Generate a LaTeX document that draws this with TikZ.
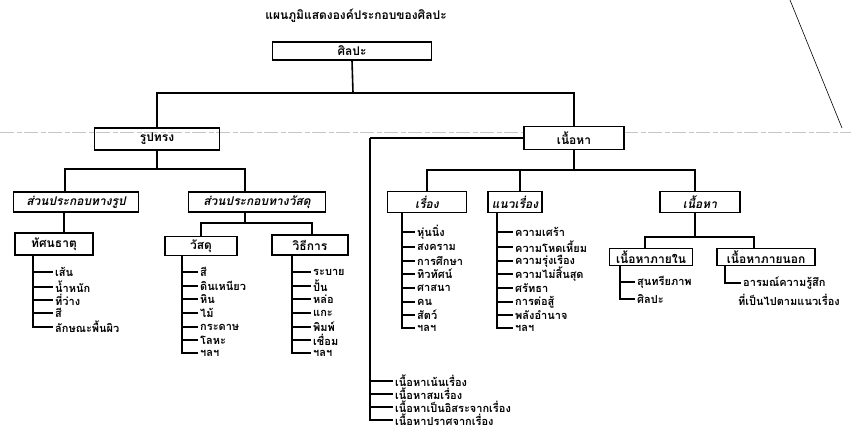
\documentclass[tikz,border=0pt]{standalone}
\usepackage{fontspec}
\usepackage{tikz}
\newfontfamily\thaifont[Script=Thai]{Loma}

\begin{document}
\begin{tikzpicture}[x=1pt, y=-1pt,
    every node/.style={font=\thaifont\bfseries\fontsize{12}{13}\selectfont},
    box/.style={draw, line width=1.1pt, inner sep=1pt, minimum height=20pt},
    itbox/.style={box, font=\thaifont\itshape\bfseries\fontsize{12}{13}\selectfont},
    item/.style={anchor=west, inner sep=2pt, font=\thaifont\bfseries\fontsize{11}{12}\selectfont},
    tree/.style={line width=1.6pt},
    bar/.style={line width=1.3pt}]
  \useasboundingbox (0,0) rectangle (851,439);

  % Sfondo (scansione)
  \draw[gray!45, line width=0.8pt, dash pattern=on 14pt off 3pt on 5pt off 2pt] (0,132) -- (851,132);
  \draw[line width=0.6pt] (790,0) -- (842,128);

  % Nodi
  \node (t) at (356,16) {แผนภูมิแสดงองค์ประกอบของศิลปะ};
  \node[box, minimum width=159pt, minimum height=18pt] (0) at (352,51) {ศิลปะ};

  \node[box, minimum width=125pt, minimum height=22pt] (1) at (157,139) {รูปทรง};
  \node[box, fill=white, minimum width=100pt, minimum height=23pt] (2) at (574,138) {เนื้อหา};

  \node[itbox, minimum width=125pt] (11) at (76,202) {ส่วนประกอบทางรูป};
  \node[itbox, minimum width=137pt] (12) at (257,202) {ส่วนประกอบทางวัสดุ};

  \node[box, minimum width=78pt, minimum height=22pt] (111) at (54,244) {ทัศนธาตุ};
  \node[box, minimum width=72pt, minimum height=19pt] (121) at (201,246) {วัสดุ};
  \node[box, minimum width=76pt] (122) at (310,245) {วิธีการ};

  \node[itbox, minimum width=79pt, minimum height=21pt] (21) at (427,202) {เรื่อง};
  \node[itbox, minimum width=54pt, minimum height=21pt] (22) at (515,202) {แนวเรื่อง};
  \node[itbox, minimum width=80pt, minimum height=21pt] (23) at (700,202) {เนื้อหา};

  \node[box, minimum width=83pt, minimum height=17pt] (231) at (651,257) {เนื้อหาภายใน};
  \node[box, minimum width=98pt, minimum height=17pt] (232) at (766,257) {เนื้อหาภายนอก};

  % Elenchi
  \node[item] (a1) at (53,272) {เส้น};
  \node[item] (a2) at (53,287) {น้ำหนัก};
  \node[item] (a3) at (53,300) {ที่ว่าง};
  \node[item] (a4) at (53,313) {สี};
  \node[item] (a5) at (53,327) {ลักษณะพื้นผิว};

  \node[item] (b1) at (198,272) {สี};
  \node[item] (b2) at (198,286) {ดินเหนียว};
  \node[item] (b3) at (198,299) {หิน};
  \node[item] (b4) at (198,313) {ไม้};
  \node[item] (b5) at (198,327) {กระดาษ};
  \node[item] (b6) at (198,340) {โลหะ};
  \node[item] (b7) at (198,353) {ฯลฯ};

  \node[item] (c1) at (311,272) {ระบาย};
  \node[item] (c2) at (311,286) {ปั้น};
  \node[item] (c3) at (311,299) {หล่อ};
  \node[item] (c4) at (311,313) {แกะ};
  \node[item] (c5) at (311,327) {พิมพ์};
  \node[item] (c6) at (311,340) {เชื่อม};
  \node[item] (c7) at (311,353) {ฯลฯ};

  \node[item] (d1) at (415,232) {หุ่นนิ่ง};
  \node[item] (d2) at (415,247) {สงคราม};
  \node[item] (d3) at (415,261) {การศึกษา};
  \node[item] (d4) at (415,274) {ทิวทัศน์};
  \node[item] (d5) at (415,288) {ศาสนา};
  \node[item] (d6) at (415,302) {คน};
  \node[item] (d7) at (415,315) {สัตว์};
  \node[item] (d8) at (415,328) {ฯลฯ};

  \node[item] (e1) at (513,232) {ความเศร้า};
  \node[item] (e2) at (513,247) {ความโหดเหี้ยม};
  \node[item] (e3) at (513,261) {ความรุ่งเรือง};
  \node[item] (e4) at (513,274) {ความไม่สิ้นสุด};
  \node[item] (e5) at (513,288) {ศรัทธา};
  \node[item] (e6) at (513,302) {การต่อสู้};
  \node[item] (e7) at (513,315) {พลังอำนาจ};
  \node[item] (e8) at (513,328) {ฯลฯ};

  \node[item] (f1) at (635,282) {สุนทรียภาพ};
  \node[item] (f2) at (635,299) {ศิลปะ};

  \node[item] (g1) at (741,283) {อารมณ์ความรู้สึก};
  \node[item] (g2) at (736,300) {ที่เป็นไปตามแนวเรื่อง};

  \node[item] (h1) at (393,381) {เนื้อหาเน้นเรื่อง};
  \node[item] (h2) at (393,394) {เนื้อหาสมเรื่อง};
  \node[item] (h3) at (393,407) {เนื้อหาเป็นอิสระจากเรื่อง};
  \node[item] (h4) at (393,420) {เนื้อหาปราศจากเรื่อง};

  % Punti di giunzione
  \coordinate (j0) at (353,93);
  \coordinate (j1) at (157,169);
  \coordinate (j2) at (245,223);
  \coordinate (j3) at (574,170);
  \coordinate (j4) at (695,237);
  \coordinate (ba) at (33,255);
  \coordinate (bb) at (182,255);
  \coordinate (bc) at (292,255);
  \coordinate (bd) at (402,213);
  \coordinate (be) at (497,213);
  \coordinate (bf) at (620,266);
  \coordinate (bg) at (725,266);
  \coordinate (bh) at (370,138);

  % Archi
  \draw[tree] (0.south) -- (j0);
  \draw[tree] (j0) -| (1.north);
  \draw[tree] (j0) -| (2.north);
  \draw[tree] (1.south) -- (j1);
  \draw[tree] (j1) -| ([xshift=-11pt]11.north);
  \draw[tree] (j1) -| ([xshift=-12pt]12.north);
  \draw[tree] ([xshift=-12pt]11.south) -- ([xshift=10pt]111.north);
  \draw[tree] ([xshift=-12pt]12.south) -- (j2);
  \draw[tree] (j2) -| (121.north);
  \draw[tree] (j2) -| ([xshift=2pt]122.north);
  \draw[tree] (2.south) -- (j3);
  \draw[tree] (j3) -| (21.north);
  \draw[tree] (j3) -| ([xshift=5pt]22.north);
  \draw[tree] (j3) -| ([xshift=-5pt]23.north);
  \draw[tree] ([xshift=-5pt]23.south) -- (j4);
  \draw[tree] (j4) -| ([xshift=-6pt]231.north);
  \draw[tree] (j4) -| ([xshift=-12pt]232.north);
  \draw[bar] (2.west) -- (bh);

  \draw[bar] (ba) |- (a5.west);
  \draw[bar] (ba |- a1.west) -- (a1.west);
  \draw[bar] (ba |- a2.west) -- (a2.west);
  \draw[bar] (ba |- a3.west) -- (a3.west);
  \draw[bar] (ba |- a4.west) -- (a4.west);

  \draw[bar] (bb) |- (b7.west);
  \draw[bar] (bb |- b1.west) -- (b1.west);
  \draw[bar] (bb |- b2.west) -- (b2.west);
  \draw[bar] (bb |- b3.west) -- (b3.west);
  \draw[bar] (bb |- b4.west) -- (b4.west);
  \draw[bar] (bb |- b5.west) -- (b5.west);
  \draw[bar] (bb |- b6.west) -- (b6.west);

  \draw[bar] (bc) |- (c7.west);
  \draw[bar] (bc |- c1.west) -- (c1.west);
  \draw[bar] (bc |- c2.west) -- (c2.west);
  \draw[bar] (bc |- c3.west) -- (c3.west);
  \draw[bar] (bc |- c4.west) -- (c4.west);
  \draw[bar] (bc |- c5.west) -- (c5.west);
  \draw[bar] (bc |- c6.west) -- (c6.west);

  \draw[bar] (bd) |- (d8.west);
  \draw[bar] (bd |- d1.west) -- (d1.west);
  \draw[bar] (bd |- d2.west) -- (d2.west);
  \draw[bar] (bd |- d3.west) -- (d3.west);
  \draw[bar] (bd |- d4.west) -- (d4.west);
  \draw[bar] (bd |- d5.west) -- (d5.west);
  \draw[bar] (bd |- d6.west) -- (d6.west);
  \draw[bar] (bd |- d7.west) -- (d7.west);

  \draw[bar] (be) |- (e8.west);
  \draw[bar] (be |- e1.west) -- (e1.west);
  \draw[bar] (be |- e2.west) -- (e2.west);
  \draw[bar] (be |- e3.west) -- (e3.west);
  \draw[bar] (be |- e4.west) -- (e4.west);
  \draw[bar] (be |- e5.west) -- (e5.west);
  \draw[bar] (be |- e6.west) -- (e6.west);
  \draw[bar] (be |- e7.west) -- (e7.west);

  \draw[bar] (bf) |- (f2.west);
  \draw[bar] (bf |- f1.west) -- (f1.west);
  \draw[bar] (bg) |- (g1.west);

  \draw[bar] (bh) |- (h4.west);
  \draw[bar] (bh |- h1.west) -- (h1.west);
  \draw[bar] (bh |- h2.west) -- (h2.west);
  \draw[bar] (bh |- h3.west) -- (h3.west);
\end{tikzpicture}
\end{document}
